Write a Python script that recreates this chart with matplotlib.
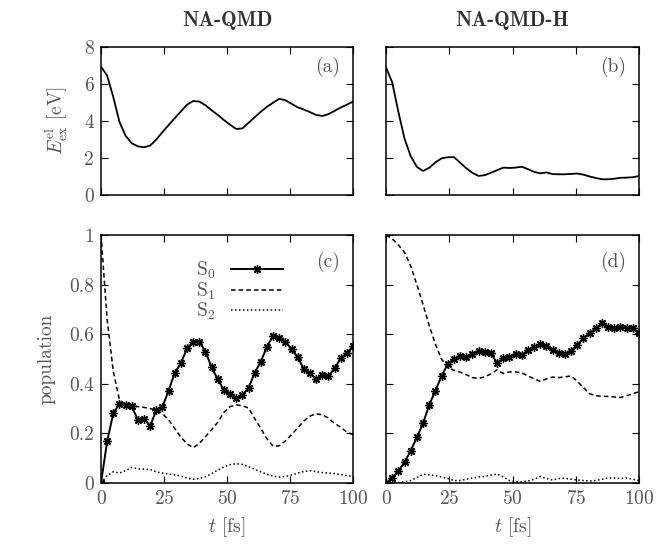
import numpy as np
import matplotlib
matplotlib.use('Agg')
import matplotlib.pyplot as plt
from matplotlib.ticker import FuncFormatter

plt.rcParams['font.family'] = 'serif'
plt.rcParams['font.serif'] = ['cmr10']
plt.rcParams['mathtext.fontset'] = 'cm'
plt.rcParams['axes.formatter.use_mathtext'] = True
plt.rcParams['font.size'] = 14

# ## Data (time grid of the simulation, 42 steps over 100 fs)
t = np.linspace(0, 100, 42)

E_qmd = [6.94, 6.45, 5.30, 3.95, 3.20, 2.80, 2.63, 2.58, 2.67, 3.00,
         3.40, 3.78, 4.15, 4.52, 4.88, 5.08, 5.05, 4.85, 4.58, 4.33,
         4.05, 3.80, 3.57, 3.60, 3.90, 4.20, 4.50, 4.77, 4.99, 5.20,
         5.12, 4.93, 4.74, 4.62, 4.48, 4.33, 4.27, 4.37, 4.55, 4.73,
         4.88, 5.05]
E_qmdh = [6.90, 6.10, 4.50, 3.05, 2.10, 1.52, 1.30, 1.47, 1.76, 1.98,
          2.04, 2.05, 1.75, 1.45, 1.20, 1.03, 1.07, 1.20, 1.34, 1.48,
          1.46, 1.48, 1.53, 1.40, 1.25, 1.17, 1.22, 1.13, 1.12, 1.12,
          1.14, 1.16, 1.10, 1.00, 0.92, 0.85, 0.85, 0.88, 0.93, 0.94,
          0.96, 1.03]

S0_qmd = [0.000, 0.168, 0.281, 0.320, 0.313, 0.310, 0.254, 0.260, 0.230, 0.294,
          0.308, 0.372, 0.445, 0.483, 0.543, 0.570, 0.570, 0.530, 0.466, 0.418,
          0.375, 0.357, 0.341, 0.355, 0.382, 0.445, 0.489, 0.550, 0.593, 0.586,
          0.570, 0.539, 0.507, 0.460, 0.442, 0.419, 0.435, 0.431, 0.462, 0.503,
          0.523, 0.552]
S1_qmd = [1.000, 0.660, 0.450, 0.335, 0.315, 0.310, 0.308, 0.305, 0.300, 0.295,
          0.280, 0.255, 0.220, 0.185, 0.158, 0.142, 0.160, 0.187, 0.215, 0.245,
          0.285, 0.308, 0.315, 0.312, 0.302, 0.260, 0.220, 0.178, 0.148, 0.150,
          0.170, 0.195, 0.222, 0.250, 0.270, 0.279, 0.275, 0.262, 0.240, 0.225,
          0.205, 0.195]
S2_qmd = [0.000, 0.030, 0.045, 0.040, 0.050, 0.063, 0.057, 0.056, 0.054, 0.045,
          0.040, 0.036, 0.033, 0.028, 0.020, 0.015, 0.018, 0.025, 0.038, 0.052,
          0.065, 0.074, 0.078, 0.075, 0.066, 0.055, 0.045, 0.035, 0.028, 0.024,
          0.026, 0.032, 0.040, 0.046, 0.050, 0.046, 0.042, 0.040, 0.038, 0.034,
          0.030, 0.026]

S0_qmdh = [0.000, 0.019, 0.050, 0.083, 0.130, 0.184, 0.240, 0.315, 0.372, 0.431,
           0.480, 0.500, 0.513, 0.509, 0.520, 0.534, 0.530, 0.523, 0.483, 0.503,
           0.509, 0.520, 0.516, 0.536, 0.550, 0.560, 0.552, 0.536, 0.523, 0.520,
           0.534, 0.556, 0.586, 0.603, 0.624, 0.644, 0.630, 0.626, 0.630, 0.624,
           0.624, 0.603]
S1_qmdh = [1.000, 0.985, 0.960, 0.930, 0.875, 0.800, 0.720, 0.635, 0.560, 0.500,
           0.465, 0.455, 0.447, 0.437, 0.425, 0.422, 0.428, 0.440, 0.456, 0.442,
           0.448, 0.448, 0.444, 0.432, 0.420, 0.410, 0.420, 0.427, 0.425, 0.428,
           0.432, 0.410, 0.385, 0.360, 0.352, 0.350, 0.349, 0.347, 0.345, 0.352,
           0.360, 0.368]
S2_qmdh = [0.000, 0.000, 0.002, 0.005, 0.010, 0.022, 0.035, 0.033, 0.030, 0.024,
           0.018, 0.010, 0.010, 0.015, 0.020, 0.024, 0.027, 0.032, 0.036, 0.025,
           0.010, 0.005, 0.005, 0.008, 0.015, 0.026, 0.018, 0.012, 0.018, 0.019,
           0.015, 0.012, 0.010, 0.008, 0.010, 0.015, 0.020, 0.020, 0.018, 0.020,
           0.015, 0.010]

titles = ['NA-QMD', 'NA-QMD-H']
xticks = [0, 25, 50, 75, 100]

# ##############################################################################
# ## Plot Data
# ##############################################################################
fig = plt.figure(figsize=(6.56, 5.47), dpi=100)
W, H = 656.0, 547.0
def box(x0, x1, y0, y1):
    return [x0 / W, 1 - y1 / H, (x1 - x0) / W, (y1 - y0) / H]

ax_a = fig.add_axes(box(101, 353, 47, 195))
ax_b = fig.add_axes(box(386, 639, 47, 195))
ax_c = fig.add_axes(box(101, 353, 235, 483))
ax_d = fig.add_axes(box(386, 639, 235, 483))

gray = '#555555'
fmt = FuncFormatter(lambda v, p: f'{v:g}')

for ax in [ax_a, ax_b, ax_c, ax_d]:
    ax.set_xlim(0, 100)
    ax.set_xticks(xticks)
    ax.tick_params(direction='in', top=True, right=True, length=5, width=0.8,
                   labelcolor=gray, labelsize=14, pad=5)
    for s in ax.spines.values():
        s.set_linewidth(1.1)
    ax.yaxis.set_major_formatter(fmt)

# top row: excitation energy
ax_a.plot(t, E_qmd, color='black', lw=1.3)
ax_b.plot(t, E_qmdh, color='black', lw=1.3)
for ax in [ax_a, ax_b]:
    ax.set_ylim(0, 8)
    ax.set_yticks([0, 2, 4, 6, 8])
    ax.tick_params(labelbottom=False)
ax_b.tick_params(labelleft=False)
ax_a.set_ylabel(r'$E_{\rm ex}^{\rm el}$ [eV]', color=gray, fontsize=14, labelpad=10)

for ax, ttl in zip([ax_a, ax_b], titles):
    ax.set_title(ttl, fontfamily='cmb10', fontsize=15, color='#333333', pad=15)

# bottom row: populations
for ax, s0, s1, s2 in [(ax_c, S0_qmd, S1_qmd, S2_qmd), (ax_d, S0_qmdh, S1_qmdh, S2_qmdh)]:
    ax.plot(t, s0, color='black', lw=1.4, marker=(8, 2, 0), ms=6, mew=1.0,
            label=r'$\mathrm{S}_0$')
    ax.plot(t, s1, color='black', lw=1.1, ls=(0, (3, 2)), label=r'$\mathrm{S}_1$')
    ax.plot(t, s2, color='black', lw=1.1, ls=(0, (1, 1.6)), label=r'$\mathrm{S}_2$')
    ax.set_ylim(0, 1)
    ax.set_yticks([0, 0.2, 0.4, 0.6, 0.8, 1])
    ax.set_xlabel(r'$t$ [fs]', color=gray, fontsize=14, labelpad=5)
ax_d.tick_params(labelleft=False)
ax_c.set_ylabel('population', color=gray, fontsize=14, labelpad=10)

leg = ax_c.legend(loc='upper right', bbox_to_anchor=(0.755, 0.93), frameon=False,
                  markerfirst=False, numpoints=1, handlelength=2.7,
                  labelspacing=-0.05, handletextpad=0.8, borderaxespad=0)
for txt in leg.get_texts():
    txt.set_color(gray)

for ax, lab in zip([ax_a, ax_b, ax_c, ax_d], ['(a)', '(b)', '(c)', '(d)']):
    ax.text(0.948, 0.865 if ax in (ax_a, ax_b) else 0.89, lab, transform=ax.transAxes,
            ha='right', va='center', color=gray, fontsize=14)

plt.savefig('out.png', dpi=100)
plt.close()
